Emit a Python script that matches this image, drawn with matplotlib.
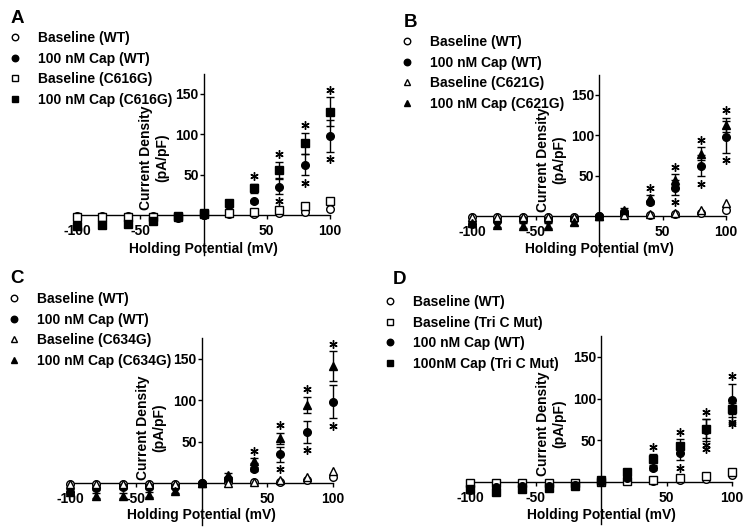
import matplotlib
matplotlib.use('Agg')
import matplotlib.pyplot as plt

plt.rcParams['font.family'] = ['Liberation Sans', 'DejaVu Sans']
plt.rcParams['font.weight'] = 'bold'
plt.rcParams['axes.labelweight'] = 'bold'
plt.rcParams['axes.unicode_minus'] = False
plt.rcParams['font.size'] = 10

W, H = 751, 532

voltage = [-100, -80, -60, -40, -20, 0, 20, 40, 60, 80, 100]

# WT (shared in all panels)
wt_base = [-1, -1, -1, -1, -1, 0, 1, 1, 2, 4, 8]
wt_cap = [-10, -6, -5, -5, -4, 0, 5, 17, 35, 62, 98]
wt_cap_err = [3, 2, 2, 2, 2, 1, 2, 2, 9, 13, 20]

# A: C616G
c616_base = [-2, -2, -2, -2, -1, 1, 2, 4, 6, 11, 17]
c616_cap = [-14, -13, -11, -8, -2, 3, 15, 33, 56, 89, 128]
c616_cap_err = [3, 3, 3, 3, 2, 2, 3, 6, 10, 13, 18]

# B: C621G
c621_base = [-1, -1, -1, -1, -1, 0, 1, 2, 4, 7, 16]
c621_cap = [-9, -11, -12, -12, -8, 0, 8, 22, 45, 77, 113]
c621_cap_err = [3, 3, 3, 3, 3, 1, 2, 4, 7, 8, 9]

# C: C634G
c634_base = [-1, -1, -1, -1, -1, 0, 0, 2, 4, 8, 15]
c634_cap = [-10, -15, -15, -14, -9, 0, 10, 27, 54, 94, 141]
c634_cap_err = [3, 3, 3, 3, 3, 1, 2, 3, 7, 10, 18]

# D: Tri C Mut
tric_base = [-1, -1, -1, -1, -1, 0, 1, 3, 5, 7, 12]
tric_cap = [-8, -12, -8, -7, -5, 2, 12, 27, 43, 64, 88]
tric_cap_err = [3, 3, 3, 3, 2, 2, 2, 6, 8, 11, 7]

x_ticks = [-100, -50, 50, 100]
y_ticks = [50, 100, 150]

fig = plt.figure(figsize=(W / 100, H / 100), dpi=100)


def fpx(x, y):
    return x / W, 1 - y / H


def panel(box, letter, letter_xy, series, stars, legend_xy, ylab_xy, xlab_y):
    left, right, top, bottom = box
    ax = fig.add_axes([left / W, 1 - bottom / H, (right - left) / W, (bottom - top) / H])
    ax.set_xlim(-100, 100)
    ax.set_ylim(-50, 175)
    ax.patch.set_visible(False)
    for s in ['top', 'right']:
        ax.spines[s].set_visible(False)
    ax.spines['left'].set_position(('data', 0))
    ax.spines['bottom'].set_position(('data', 0))
    for s in ['left', 'bottom']:
        ax.spines[s].set_linewidth(1.0)
    ax.set_xticks(x_ticks)
    ax.set_yticks(y_ticks)
    ax.tick_params(axis='x', direction='out', length=3, width=1, pad=3.5)
    ax.tick_params(axis='y', direction='out', length=3, width=1, pad=0.5)

    handles = []
    for s in series:
        if s.get('err') is not None:
            ax.errorbar(voltage, s['y'], yerr=s['err'], fmt='none', ecolor='black',
                        elinewidth=1, capsize=3, capthick=1, clip_on=False, zorder=2)
        h, = ax.plot(voltage, s['y'], ls='none', marker=s['marker'], ms=5.5,
                     mfc='black' if s['filled'] else 'white', mec='black', mew=1,
                     clip_on=False, zorder=3, label=s['label'])
        handles.append(h)

    # significance asterisks just beyond the error bar caps
    for xv, s, d in stars:
        i = voltage.index(xv)
        yv = s['y'][i] + d * (s['err'][i] + 9)
        ax.plot([xv], [yv], ls='none', marker=(6, 2, 0), ms=6, mew=1.0,
                color='black', clip_on=False, zorder=4)

    ax.set_xlabel('Holding Potential (mV)')
    ax.xaxis.label.set_va('center')
    ax.xaxis.set_label_coords(0.5, xlab_y)
    ax.text(ylab_xy[0], ylab_xy[1], 'Current Density\n(pA/pF)', rotation=90,
            ha='center', va='center', multialignment='center',
            transform=ax.transAxes)

    fig.text(*fpx(*letter_xy), letter, fontsize=13.5, fontweight='bold',
             ha='left', va='baseline')
    fig.legend(handles=handles, loc='upper left', bbox_to_anchor=fpx(*legend_xy),
               bbox_transform=fig.transFigure, frameon=False, borderpad=0,
               borderaxespad=0, handlelength=1.0, handletextpad=1.1,
               labelspacing=0.48, markerscale=0.85, fontsize=10)
    return ax


def S(label, y, marker, filled, err=None):
    return {'label': label, 'y': y, 'marker': marker, 'filled': filled, 'err': err}


# Panel A
wtb = S('Baseline (WT)', wt_base, 'o', False)
wtc = S('100 nM Cap (WT)', wt_cap, 'o', True, wt_cap_err)
a_b = S('Baseline (C616G)', c616_base, 's', False)
a_c = S('100 nM Cap (C616G)', c616_cap, 's', True, c616_cap_err)
panel((77, 330, 73.8, 255.3), 'A', (11, 23),
      [wtb, wtc, a_b, a_c],
      [(40, a_c, 1), (60, a_c, 1), (60, wtc, -1), (80, a_c, 1), (80, wtc, -1),
       (100, a_c, 1), (100, wtc, -1)],
      (8.5, 31), (0.305, 0.536), 0.036)

# Panel B
b_b = S('Baseline (C621G)', c621_base, '^', False)
b_c = S('100 nM Cap (C621G)', c621_cap, '^', True, c621_cap_err)
panel((472, 726, 74.8, 256.3), 'B', (404, 27),
      [wtb, wtc, b_b, b_c],
      [(40, b_c, 1), (60, b_c, 1), (60, wtc, -1), (80, b_c, 1), (80, wtc, -1),
       (100, b_c, 1), (100, wtc, -1)],
      (400.5, 35), (0.312, 0.53), 0.042)

# Panel C
c_b = S('Baseline (C634G)', c634_base, '^', False)
c_c = S('100 nM Cap (C634G)', c634_cap, '^', True, c634_cap_err)
panel((70, 333, 337.9, 524.8), 'C', (10, 283),
      [wtb, wtc, c_b, c_c],
      [(40, c_c, 1), (60, c_c, 1), (60, wtc, -1), (80, c_c, 1), (80, wtc, -1),
       (100, c_c, 1), (100, wtc, -1)],
      (7.5, 292), (0.307, 0.518), 0.054)

# Panel D
d_b = S('Baseline (Tri C Mut)', tric_base, 's', False)
d_c = S('100nM Cap (Tri C Mut)', tric_cap, 's', True, tric_cap_err)
panel((470, 732, 335.9, 523.8), 'D', (393, 284),
      [wtb, d_b, wtc, d_c],
      [(40, d_c, 1), (60, d_c, 1), (60, wtc, -1), (80, d_c, 1), (80, d_c, -1),
       (80, wtc, -1), (100, wtc, 1), (100, d_c, -1), (100, wtc, -1)],
      (383.5, 295), (0.308, 0.531), 0.048)

fig.savefig('out.png', dpi=100)
